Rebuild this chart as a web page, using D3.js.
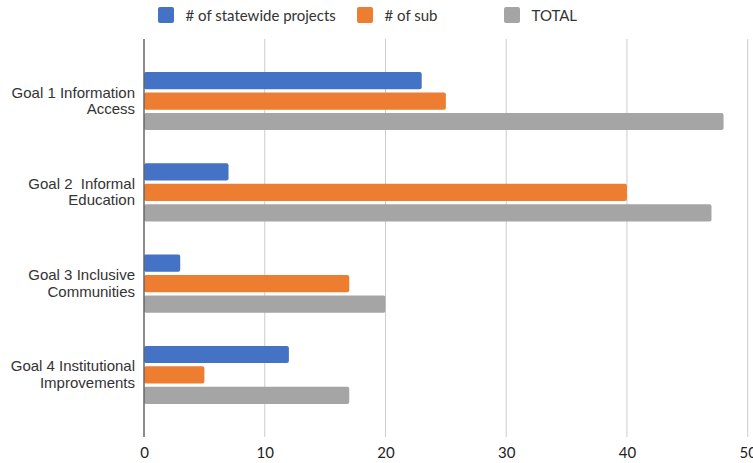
<!DOCTYPE html>
<html>
<head>
<meta charset="utf-8">
<script src="https://cdn.jsdelivr.net/npm/d3@7"></script>
<style>
  html, body { margin: 0; padding: 0; background: #fff; }
  svg { display: block; font-family: Lato, "Open Sans", sans-serif; }
  text, tspan { white-space: pre; }
</style>
</head>
<body>
<svg id="chart" width="753" height="463"></svg>
<script>
// Goals and their two-line labels
const categories = [
  ["Goal 1 Information", "Access"],
  ["Goal 2  Informal", "Education"],
  ["Goal 3 Inclusive", "Communities"],
  ["Goal 4 Institutional", "Improvements"]
];
const seriesNames = ["# of statewide projects", "# of sub", "TOTAL"];
const statewide = [23, 7, 3, 12];
const sub = [25, 40, 17, 5];
const total = [48, 47, 20, 17];
const xTicks = [0, 10, 20, 30, 40, 50];
const colors = ["#4472C4", "#ED7D31", "#A5A5A5"];

const seriesValues = [statewide, sub, total];

const svg = d3.select("#chart");
const margin = { top: 39, right: 5, bottom: 26, left: 144 };
const W = 753, H = 463;

const x = d3.scaleLinear().domain([0, 50]).range([margin.left, 747.7]);
const y0 = d3.scaleBand()
  .domain(d3.range(categories.length))
  .range([margin.top, H - margin.bottom])
  .paddingInner(0)
  .paddingOuter(0.18);
const groupPad = y0.bandwidth() * 0.182;
const y1 = d3.scaleBand()
  .domain(d3.range(seriesNames.length))
  .range([groupPad, y0.bandwidth() - groupPad])
  .paddingInner(0.16);

// vertical gridlines
svg.append("g").selectAll("line")
  .data(xTicks.filter(d => d > 0))
  .join("line")
  .attr("x1", d => x(d)).attr("x2", d => x(d))
  .attr("y1", margin.top).attr("y2", H - margin.bottom)
  .attr("stroke", "#cccccc").attr("stroke-width", 1);

// bars
const groups = svg.append("g").selectAll("g")
  .data(categories.map((c, i) => i))
  .join("g")
  .attr("transform", i => `translate(0,${y0(i)})`);

groups.selectAll("rect")
  .data(i => seriesValues.map((vals, s) => ({ s, v: vals[i] })))
  .join("rect")
  .attr("x", x(0))
  .attr("y", d => y1(d.s))
  .attr("width", d => x(d.v) - x(0))
  .attr("height", y1.bandwidth())
  .attr("rx", 2).attr("ry", 2)
  .attr("fill", d => colors[d.s]);

// baseline at zero
svg.append("line")
  .attr("x1", x(0)).attr("x2", x(0))
  .attr("y1", margin.top).attr("y2", H - margin.bottom)
  .attr("stroke", "#666").attr("stroke-width", 1.5);

// x axis labels
const xAxis = d3.axisBottom(x).tickValues(xTicks).tickSize(0).tickPadding(0);
const gx = svg.append("g")
  .attr("transform", `translate(0,${H - margin.bottom})`)
  .call(xAxis);
gx.select(".domain").remove();
gx.selectAll("text")
  .attr("dy", null)
  .attr("y", 21)
  .attr("fill", "#222")
  .style("font-size", "15px")
  .style("font-family", "Lato, 'Open Sans', sans-serif");

// category labels
const yAxis = d3.axisLeft(y0).tickSize(0).tickFormat("");
const gy = svg.append("g").attr("transform", `translate(${margin.left},0)`).call(yAxis);
gy.select(".domain").remove();
gy.selectAll(".tick").each(function(i) {
  const t = d3.select(this).append("text")
    .attr("x", -9)
    .attr("text-anchor", "end")
    .attr("fill", "#333")
    .style("font-size", "15px");
  categories[i].forEach((line, k) => {
    t.append("tspan").attr("x", -9).attr("y", k === 0 ? -3.5 : 13).text(line);
  });
});

// legend
const legendX = [158, 357, 504];
const legend = svg.append("g").selectAll("g")
  .data(seriesNames)
  .join("g")
  .attr("transform", (d, i) => `translate(${legendX[i]},7)`);
legend.append("rect")
  .attr("width", 16).attr("height", 16).attr("rx", 2)
  .attr("fill", (d, i) => colors[i]);
legend.append("text")
  .attr("x", 27.5).attr("y", 13.5)
  .attr("fill", "#333")
  .style("font-size", "15px")
  .text(d => d);
</script>
</body>
</html>
